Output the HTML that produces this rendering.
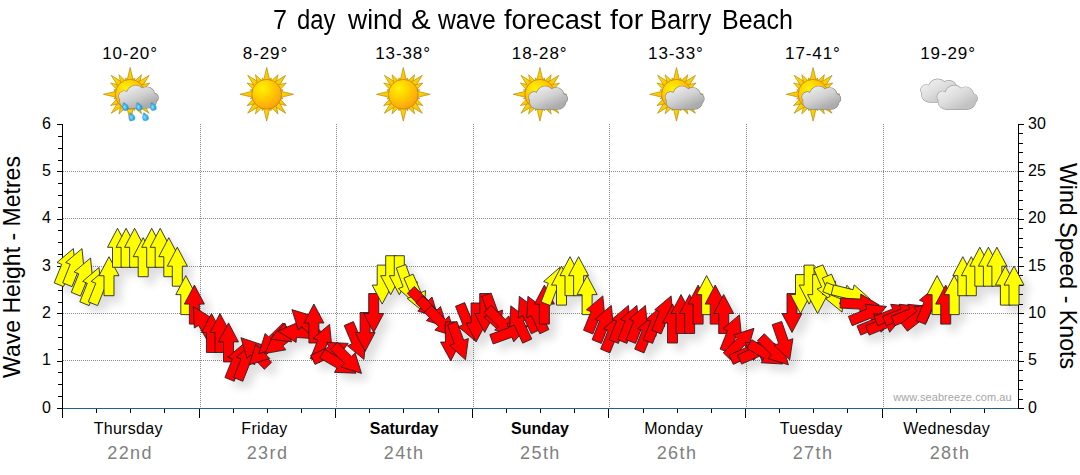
<!DOCTYPE html>
<html><head><meta charset="utf-8"><title>7 day wind &amp; wave forecast for Barry Beach</title>
<style>
html,body{margin:0;padding:0;background:#fff;}
body{width:1080px;height:475px;position:relative;overflow:hidden;font-family:"Liberation Sans",sans-serif;color:#000;}
.t{position:absolute;white-space:nowrap;line-height:1;}
.c{transform:translateX(-50%);text-align:center;}
svg{position:absolute;left:0;top:0;}
</style></head><body>
<div class="t ttl" style="left:273.4px;top:7.0px;font-size:27px;transform-origin:0 0;transform:scaleX(0.931);">7</div>
<div class="t ttl" style="left:296.7px;top:7.0px;font-size:27px;transform-origin:0 0;transform:scaleX(0.883);">day</div>
<div class="t ttl" style="left:348.2px;top:7.0px;font-size:27px;transform-origin:0 0;transform:scaleX(0.983);">wind</div>
<div class="t ttl" style="left:410.6px;top:7.0px;font-size:27px;transform-origin:0 0;transform:scaleX(1.089);">&amp;</div>
<div class="t ttl" style="left:437.6px;top:7.0px;font-size:27px;transform-origin:0 0;transform:scaleX(0.915);">wave</div>
<div class="t ttl" style="left:503.7px;top:7.0px;font-size:27px;transform-origin:0 0;transform:scaleX(1.010);">forecast</div>
<div class="t ttl" style="left:609.5px;top:7.0px;font-size:27px;transform-origin:0 0;transform:scaleX(1.056);">for</div>
<div class="t ttl" style="left:650.1px;top:7.0px;font-size:27px;transform-origin:0 0;transform:scaleX(0.949);">Barry</div>
<div class="t ttl" style="left:722.2px;top:7.0px;font-size:27px;transform-origin:0 0;transform:scaleX(0.927);">Beach</div>
<div class="t c tmp" style="left:130.0px;top:45px;font-size:17px;letter-spacing:0.9px;">10-20°</div>
<div class="t c tmp" style="left:265.5px;top:45px;font-size:17px;letter-spacing:0.9px;">8-29°</div>
<div class="t c tmp" style="left:403.1px;top:45px;font-size:17px;letter-spacing:0.9px;">13-38°</div>
<div class="t c tmp" style="left:539.7px;top:45px;font-size:17px;letter-spacing:0.9px;">18-28°</div>
<div class="t c tmp" style="left:675.9px;top:45px;font-size:17px;letter-spacing:0.9px;">13-33°</div>
<div class="t c tmp" style="left:812.9px;top:45px;font-size:17px;letter-spacing:0.9px;">17-41°</div>
<div class="t c tmp" style="left:948.1px;top:45px;font-size:17px;letter-spacing:0.9px;">19-29°</div>
<div class="t c day" style="left:128.2px;top:421px;font-size:16px;font-weight:normal;letter-spacing:0.3px;">Thursday</div>
<div class="t c num" style="left:130.1px;top:444px;font-size:18px;color:#808080;letter-spacing:1.4px;">22nd</div>
<div class="t c day" style="left:264.5px;top:421px;font-size:16px;font-weight:normal;letter-spacing:0.3px;">Friday</div>
<div class="t c num" style="left:267.5px;top:444px;font-size:18px;color:#808080;letter-spacing:1.4px;">23rd</div>
<div class="t c day" style="left:404.1px;top:421px;font-size:16px;font-weight:bold;letter-spacing:0px;">Saturday</div>
<div class="t c num" style="left:404.1px;top:444px;font-size:18px;color:#808080;letter-spacing:1.4px;">24th</div>
<div class="t c day" style="left:539.9px;top:421px;font-size:16px;font-weight:bold;letter-spacing:0px;">Sunday</div>
<div class="t c num" style="left:540.4px;top:444px;font-size:18px;color:#808080;letter-spacing:1.4px;">25th</div>
<div class="t c day" style="left:673.6px;top:421px;font-size:16px;font-weight:normal;letter-spacing:0.3px;">Monday</div>
<div class="t c num" style="left:677.0px;top:444px;font-size:18px;color:#808080;letter-spacing:1.4px;">26th</div>
<div class="t c day" style="left:811.2px;top:421px;font-size:16px;font-weight:normal;letter-spacing:0.3px;">Tuesday</div>
<div class="t c num" style="left:813.0px;top:444px;font-size:18px;color:#808080;letter-spacing:1.4px;">27th</div>
<div class="t c day" style="left:946.6px;top:421px;font-size:16px;font-weight:normal;letter-spacing:0.3px;">Wednesday</div>
<div class="t c num" style="left:950.0px;top:444px;font-size:18px;color:#808080;letter-spacing:1.4px;">28th</div>
<div class="t ly" style="right:1029px;top:399.6px;font-size:16px;">0</div>
<div class="t ly" style="right:1029px;top:352.3px;font-size:16px;">1</div>
<div class="t ly" style="right:1029px;top:304.9px;font-size:16px;">2</div>
<div class="t ly" style="right:1029px;top:257.6px;font-size:16px;">3</div>
<div class="t ly" style="right:1029px;top:210.3px;font-size:16px;">4</div>
<div class="t ly" style="right:1029px;top:162.9px;font-size:16px;">5</div>
<div class="t ly" style="right:1029px;top:115.6px;font-size:16px;">6</div>
<div class="t ry" style="left:1028px;top:399.6px;font-size:16px;">0</div>
<div class="t ry" style="left:1028px;top:352.3px;font-size:16px;">5</div>
<div class="t ry" style="left:1028px;top:304.9px;font-size:16px;">10</div>
<div class="t ry" style="left:1028px;top:257.6px;font-size:16px;">15</div>
<div class="t ry" style="left:1028px;top:210.3px;font-size:16px;">20</div>
<div class="t ry" style="left:1028px;top:162.9px;font-size:16px;">25</div>
<div class="t ry" style="left:1028px;top:115.6px;font-size:16px;">30</div>
<div class="t" id="lt" style="left:12.1px;top:267px;font-size:24.5px;transform:translate(-50%,-50%) rotate(-90deg) scaleX(0.94);">Wave Height - Metres</div>
<div class="t" id="rt" style="left:1068.0px;top:266px;font-size:24.5px;transform:translate(-50%,-50%) rotate(90deg) scaleX(0.946);">Wind Speed - Knots</div>
<div class="t" id="wm" style="right:68.3px;top:392.4px;font-size:11px;color:#a6a6a6;letter-spacing:0.08px;">www.seabreeze.com.au</div>
<svg width="1080" height="475" viewBox="0 0 1080 475">
<defs>
<radialGradient id="sung" cx="0.36" cy="0.30" r="0.75" fx="0.36" fy="0.30">
<stop offset="0" stop-color="#fff200"/><stop offset="0.35" stop-color="#ffd600"/><stop offset="0.75" stop-color="#ffb408"/><stop offset="1" stop-color="#f79c14"/>
</radialGradient>
<linearGradient id="rayg" x1="0" y1="0" x2="1" y2="1">
<stop offset="0" stop-color="#ffe400"/><stop offset="1" stop-color="#f8b800"/>
</linearGradient>
<linearGradient id="cldl" gradientUnits="userSpaceOnUse" x1="8" y1="0" x2="22" y2="24">
<stop offset="0" stop-color="#f0f0f0"/><stop offset="0.5" stop-color="#dedede"/><stop offset="1" stop-color="#c2c2c2"/>
</linearGradient>
<linearGradient id="cldd" gradientUnits="userSpaceOnUse" x1="10" y1="0" x2="20" y2="24">
<stop offset="0" stop-color="#ededed"/><stop offset="0.55" stop-color="#d0d0d0"/><stop offset="1" stop-color="#acacac"/>
</linearGradient>
<radialGradient id="dropg" cx="0.4" cy="0.55" r="0.6">
<stop offset="0" stop-color="#9fe2ff"/><stop offset="0.6" stop-color="#2fb0ee"/><stop offset="1" stop-color="#0f8fd6"/>
</radialGradient>
<filter id="soft" x="-10%" y="-10%" width="120%" height="120%"><feGaussianBlur stdDeviation="0.35"/></filter>
</defs>
<g fill="url(#rayg)" stroke="#b8880c" stroke-width="0.7" stroke-linejoin="miter" filter="url(#soft)"><polygon points="143.20,91.00 157.00,94.30 143.20,97.60"/><polygon points="143.17,96.12 146.62,98.70 142.34,99.21"/><polygon points="142.91,98.29 149.77,105.60 140.01,103.31"/><polygon points="141.73,101.16 149.15,113.25 137.06,105.83"/><polygon points="139.21,104.11 141.50,113.87 134.19,107.01"/><polygon points="135.11,106.44 134.60,110.72 132.02,107.27"/><polygon points="133.50,107.30 130.20,121.10 126.90,107.30"/><polygon points="128.38,107.27 125.80,110.72 125.29,106.44"/><polygon points="126.21,107.01 118.90,113.87 121.19,104.11"/><polygon points="123.34,105.83 111.25,113.25 118.67,101.16"/><polygon points="120.39,103.31 110.63,105.60 117.49,98.29"/><polygon points="118.06,99.21 113.78,98.70 117.23,96.12"/><polygon points="117.20,97.60 103.40,94.30 117.20,91.00"/><polygon points="117.23,92.48 113.78,89.90 118.06,89.39"/><polygon points="117.49,90.31 110.63,83.00 120.39,85.29"/><polygon points="118.67,87.44 111.25,75.35 123.34,82.77"/><polygon points="121.19,84.49 118.90,74.73 126.21,81.59"/><polygon points="125.29,82.16 125.80,77.88 128.38,81.33"/><polygon points="126.90,81.30 130.20,67.50 133.50,81.30"/><polygon points="132.02,81.33 134.60,77.88 135.11,82.16"/><polygon points="134.19,81.59 141.50,74.73 139.21,84.49"/><polygon points="137.06,82.77 149.15,75.35 141.73,87.44"/><polygon points="140.01,85.29 149.77,83.00 142.91,90.31"/><polygon points="142.34,89.39 146.62,89.90 143.17,92.48"/></g><circle cx="130.2" cy="94.3" r="14.9" fill="url(#sung)" stroke="#c58414" stroke-width="0.8" filter="url(#soft)"/>
<g transform="translate(118.9,85.6) scale(0.985,0.95)" filter="url(#soft)"><g fill="#8a8a8a" stroke="#8a8a8a" stroke-width="1.3"><circle cx="5.4" cy="11.2" r="5.4"/><circle cx="17" cy="9.2" r="9.2"/><circle cx="28.3" cy="9.4" r="7.8"/><circle cx="35.3" cy="12.8" r="4.6"/><rect x="1.0" y="9" width="37" height="14.5" rx="8.5" ry="8"/></g><g fill="url(#cldd)"><circle cx="5.4" cy="11.2" r="5.4"/><circle cx="17" cy="9.2" r="9.2"/><circle cx="28.3" cy="9.4" r="7.8"/><circle cx="35.3" cy="12.8" r="4.6"/><rect x="1.0" y="9" width="37" height="14.5" rx="8.5" ry="8"/></g></g>
<g transform="translate(125.1,106.7) rotate(-20)" filter="url(#soft)"><path d="M0,-4.4 C1.1,-2.5 2.9,-1.0 2.9,0.9 A2.9,2.9 0 1 1 -2.9,0.9 C-2.9,-1.0 -1.1,-2.5 0,-4.4 Z" fill="url(#dropg)" stroke="#1287c8" stroke-width="0.5"/></g>
<g transform="translate(138.8,106.7) rotate(-20)" filter="url(#soft)"><path d="M0,-4.4 C1.1,-2.5 2.9,-1.0 2.9,0.9 A2.9,2.9 0 1 1 -2.9,0.9 C-2.9,-1.0 -1.1,-2.5 0,-4.4 Z" fill="url(#dropg)" stroke="#1287c8" stroke-width="0.5"/></g>
<g transform="translate(153.0,106.7) rotate(-20)" filter="url(#soft)"><path d="M0,-4.4 C1.1,-2.5 2.9,-1.0 2.9,0.9 A2.9,2.9 0 1 1 -2.9,0.9 C-2.9,-1.0 -1.1,-2.5 0,-4.4 Z" fill="url(#dropg)" stroke="#1287c8" stroke-width="0.5"/></g>
<g transform="translate(131.6,116.9) rotate(-20)" filter="url(#soft)"><path d="M0,-4.4 C1.1,-2.5 2.9,-1.0 2.9,0.9 A2.9,2.9 0 1 1 -2.9,0.9 C-2.9,-1.0 -1.1,-2.5 0,-4.4 Z" fill="url(#dropg)" stroke="#1287c8" stroke-width="0.5"/></g>
<g transform="translate(145.2,116.9) rotate(-20)" filter="url(#soft)"><path d="M0,-4.4 C1.1,-2.5 2.9,-1.0 2.9,0.9 A2.9,2.9 0 1 1 -2.9,0.9 C-2.9,-1.0 -1.1,-2.5 0,-4.4 Z" fill="url(#dropg)" stroke="#1287c8" stroke-width="0.5"/></g>
<g fill="url(#rayg)" stroke="#b8880c" stroke-width="0.7" stroke-linejoin="miter" filter="url(#soft)"><polygon points="279.70,91.00 293.50,94.30 279.70,97.60"/><polygon points="279.67,96.12 283.12,98.70 278.84,99.21"/><polygon points="279.41,98.29 286.27,105.60 276.51,103.31"/><polygon points="278.23,101.16 285.65,113.25 273.56,105.83"/><polygon points="275.71,104.11 278.00,113.87 270.69,107.01"/><polygon points="271.61,106.44 271.10,110.72 268.52,107.27"/><polygon points="270.00,107.30 266.70,121.10 263.40,107.30"/><polygon points="264.88,107.27 262.30,110.72 261.79,106.44"/><polygon points="262.71,107.01 255.40,113.87 257.69,104.11"/><polygon points="259.84,105.83 247.75,113.25 255.17,101.16"/><polygon points="256.89,103.31 247.13,105.60 253.99,98.29"/><polygon points="254.56,99.21 250.28,98.70 253.73,96.12"/><polygon points="253.70,97.60 239.90,94.30 253.70,91.00"/><polygon points="253.73,92.48 250.28,89.90 254.56,89.39"/><polygon points="253.99,90.31 247.13,83.00 256.89,85.29"/><polygon points="255.17,87.44 247.75,75.35 259.84,82.77"/><polygon points="257.69,84.49 255.40,74.73 262.71,81.59"/><polygon points="261.79,82.16 262.30,77.88 264.88,81.33"/><polygon points="263.40,81.30 266.70,67.50 270.00,81.30"/><polygon points="268.52,81.33 271.10,77.88 271.61,82.16"/><polygon points="270.69,81.59 278.00,74.73 275.71,84.49"/><polygon points="273.56,82.77 285.65,75.35 278.23,87.44"/><polygon points="276.51,85.29 286.27,83.00 279.41,90.31"/><polygon points="278.84,89.39 283.12,89.90 279.67,92.48"/></g><circle cx="266.7" cy="94.3" r="14.9" fill="url(#sung)" stroke="#c58414" stroke-width="0.8" filter="url(#soft)"/>
<g fill="url(#rayg)" stroke="#b8880c" stroke-width="0.7" stroke-linejoin="miter" filter="url(#soft)"><polygon points="416.30,91.00 430.10,94.30 416.30,97.60"/><polygon points="416.27,96.12 419.72,98.70 415.44,99.21"/><polygon points="416.01,98.29 422.87,105.60 413.11,103.31"/><polygon points="414.83,101.16 422.25,113.25 410.16,105.83"/><polygon points="412.31,104.11 414.60,113.87 407.29,107.01"/><polygon points="408.21,106.44 407.70,110.72 405.12,107.27"/><polygon points="406.60,107.30 403.30,121.10 400.00,107.30"/><polygon points="401.48,107.27 398.90,110.72 398.39,106.44"/><polygon points="399.31,107.01 392.00,113.87 394.29,104.11"/><polygon points="396.44,105.83 384.35,113.25 391.77,101.16"/><polygon points="393.49,103.31 383.73,105.60 390.59,98.29"/><polygon points="391.16,99.21 386.88,98.70 390.33,96.12"/><polygon points="390.30,97.60 376.50,94.30 390.30,91.00"/><polygon points="390.33,92.48 386.88,89.90 391.16,89.39"/><polygon points="390.59,90.31 383.73,83.00 393.49,85.29"/><polygon points="391.77,87.44 384.35,75.35 396.44,82.77"/><polygon points="394.29,84.49 392.00,74.73 399.31,81.59"/><polygon points="398.39,82.16 398.90,77.88 401.48,81.33"/><polygon points="400.00,81.30 403.30,67.50 406.60,81.30"/><polygon points="405.12,81.33 407.70,77.88 408.21,82.16"/><polygon points="407.29,81.59 414.60,74.73 412.31,84.49"/><polygon points="410.16,82.77 422.25,75.35 414.83,87.44"/><polygon points="413.11,85.29 422.87,83.00 416.01,90.31"/><polygon points="415.44,89.39 419.72,89.90 416.27,92.48"/></g><circle cx="403.3" cy="94.3" r="14.9" fill="url(#sung)" stroke="#c58414" stroke-width="0.8" filter="url(#soft)"/>
<g fill="url(#rayg)" stroke="#b8880c" stroke-width="0.7" stroke-linejoin="miter" filter="url(#soft)"><polygon points="552.90,91.00 566.70,94.30 552.90,97.60"/><polygon points="552.87,96.12 556.32,98.70 552.04,99.21"/><polygon points="552.61,98.29 559.47,105.60 549.71,103.31"/><polygon points="551.43,101.16 558.85,113.25 546.76,105.83"/><polygon points="548.91,104.11 551.20,113.87 543.89,107.01"/><polygon points="544.81,106.44 544.30,110.72 541.72,107.27"/><polygon points="543.20,107.30 539.90,121.10 536.60,107.30"/><polygon points="538.08,107.27 535.50,110.72 534.99,106.44"/><polygon points="535.91,107.01 528.60,113.87 530.89,104.11"/><polygon points="533.04,105.83 520.95,113.25 528.37,101.16"/><polygon points="530.09,103.31 520.33,105.60 527.19,98.29"/><polygon points="527.76,99.21 523.48,98.70 526.93,96.12"/><polygon points="526.90,97.60 513.10,94.30 526.90,91.00"/><polygon points="526.93,92.48 523.48,89.90 527.76,89.39"/><polygon points="527.19,90.31 520.33,83.00 530.09,85.29"/><polygon points="528.37,87.44 520.95,75.35 533.04,82.77"/><polygon points="530.89,84.49 528.60,74.73 535.91,81.59"/><polygon points="534.99,82.16 535.50,77.88 538.08,81.33"/><polygon points="536.60,81.30 539.90,67.50 543.20,81.30"/><polygon points="541.72,81.33 544.30,77.88 544.81,82.16"/><polygon points="543.89,81.59 551.20,74.73 548.91,84.49"/><polygon points="546.76,82.77 558.85,75.35 551.43,87.44"/><polygon points="549.71,85.29 559.47,83.00 552.61,90.31"/><polygon points="552.04,89.39 556.32,89.90 552.87,92.48"/></g><circle cx="539.9" cy="94.3" r="14.9" fill="url(#sung)" stroke="#c58414" stroke-width="0.8" filter="url(#soft)"/>
<g transform="translate(528.9,86.3) scale(0.965,0.97)" filter="url(#soft)"><g fill="#8a8a8a" stroke="#8a8a8a" stroke-width="1.3"><circle cx="5.4" cy="11.2" r="5.4"/><circle cx="17" cy="9.2" r="9.2"/><circle cx="28.3" cy="9.4" r="7.8"/><circle cx="35.3" cy="12.8" r="4.6"/><rect x="1.0" y="9" width="37" height="14.5" rx="8.5" ry="8"/></g><g fill="url(#cldd)"><circle cx="5.4" cy="11.2" r="5.4"/><circle cx="17" cy="9.2" r="9.2"/><circle cx="28.3" cy="9.4" r="7.8"/><circle cx="35.3" cy="12.8" r="4.6"/><rect x="1.0" y="9" width="37" height="14.5" rx="8.5" ry="8"/></g></g>
<g fill="url(#rayg)" stroke="#b8880c" stroke-width="0.7" stroke-linejoin="miter" filter="url(#soft)"><polygon points="689.50,91.00 703.30,94.30 689.50,97.60"/><polygon points="689.47,96.12 692.92,98.70 688.64,99.21"/><polygon points="689.21,98.29 696.07,105.60 686.31,103.31"/><polygon points="688.03,101.16 695.45,113.25 683.36,105.83"/><polygon points="685.51,104.11 687.80,113.87 680.49,107.01"/><polygon points="681.41,106.44 680.90,110.72 678.32,107.27"/><polygon points="679.80,107.30 676.50,121.10 673.20,107.30"/><polygon points="674.68,107.27 672.10,110.72 671.59,106.44"/><polygon points="672.51,107.01 665.20,113.87 667.49,104.11"/><polygon points="669.64,105.83 657.55,113.25 664.97,101.16"/><polygon points="666.69,103.31 656.93,105.60 663.79,98.29"/><polygon points="664.36,99.21 660.08,98.70 663.53,96.12"/><polygon points="663.50,97.60 649.70,94.30 663.50,91.00"/><polygon points="663.53,92.48 660.08,89.90 664.36,89.39"/><polygon points="663.79,90.31 656.93,83.00 666.69,85.29"/><polygon points="664.97,87.44 657.55,75.35 669.64,82.77"/><polygon points="667.49,84.49 665.20,74.73 672.51,81.59"/><polygon points="671.59,82.16 672.10,77.88 674.68,81.33"/><polygon points="673.20,81.30 676.50,67.50 679.80,81.30"/><polygon points="678.32,81.33 680.90,77.88 681.41,82.16"/><polygon points="680.49,81.59 687.80,74.73 685.51,84.49"/><polygon points="683.36,82.77 695.45,75.35 688.03,87.44"/><polygon points="686.31,85.29 696.07,83.00 689.21,90.31"/><polygon points="688.64,89.39 692.92,89.90 689.47,92.48"/></g><circle cx="676.5" cy="94.3" r="14.9" fill="url(#sung)" stroke="#c58414" stroke-width="0.8" filter="url(#soft)"/>
<g transform="translate(665.5,86.3) scale(0.965,0.97)" filter="url(#soft)"><g fill="#8a8a8a" stroke="#8a8a8a" stroke-width="1.3"><circle cx="5.4" cy="11.2" r="5.4"/><circle cx="17" cy="9.2" r="9.2"/><circle cx="28.3" cy="9.4" r="7.8"/><circle cx="35.3" cy="12.8" r="4.6"/><rect x="1.0" y="9" width="37" height="14.5" rx="8.5" ry="8"/></g><g fill="url(#cldd)"><circle cx="5.4" cy="11.2" r="5.4"/><circle cx="17" cy="9.2" r="9.2"/><circle cx="28.3" cy="9.4" r="7.8"/><circle cx="35.3" cy="12.8" r="4.6"/><rect x="1.0" y="9" width="37" height="14.5" rx="8.5" ry="8"/></g></g>
<g fill="url(#rayg)" stroke="#b8880c" stroke-width="0.7" stroke-linejoin="miter" filter="url(#soft)"><polygon points="826.10,91.00 839.90,94.30 826.10,97.60"/><polygon points="826.07,96.12 829.52,98.70 825.24,99.21"/><polygon points="825.81,98.29 832.67,105.60 822.91,103.31"/><polygon points="824.63,101.16 832.05,113.25 819.96,105.83"/><polygon points="822.11,104.11 824.40,113.87 817.09,107.01"/><polygon points="818.01,106.44 817.50,110.72 814.92,107.27"/><polygon points="816.40,107.30 813.10,121.10 809.80,107.30"/><polygon points="811.28,107.27 808.70,110.72 808.19,106.44"/><polygon points="809.11,107.01 801.80,113.87 804.09,104.11"/><polygon points="806.24,105.83 794.15,113.25 801.57,101.16"/><polygon points="803.29,103.31 793.53,105.60 800.39,98.29"/><polygon points="800.96,99.21 796.68,98.70 800.13,96.12"/><polygon points="800.10,97.60 786.30,94.30 800.10,91.00"/><polygon points="800.13,92.48 796.68,89.90 800.96,89.39"/><polygon points="800.39,90.31 793.53,83.00 803.29,85.29"/><polygon points="801.57,87.44 794.15,75.35 806.24,82.77"/><polygon points="804.09,84.49 801.80,74.73 809.11,81.59"/><polygon points="808.19,82.16 808.70,77.88 811.28,81.33"/><polygon points="809.80,81.30 813.10,67.50 816.40,81.30"/><polygon points="814.92,81.33 817.50,77.88 818.01,82.16"/><polygon points="817.09,81.59 824.40,74.73 822.11,84.49"/><polygon points="819.96,82.77 832.05,75.35 824.63,87.44"/><polygon points="822.91,85.29 832.67,83.00 825.81,90.31"/><polygon points="825.24,89.39 829.52,89.90 826.07,92.48"/></g><circle cx="813.1" cy="94.3" r="14.9" fill="url(#sung)" stroke="#c58414" stroke-width="0.8" filter="url(#soft)"/>
<g transform="translate(802.1,86.3) scale(0.965,0.97)" filter="url(#soft)"><g fill="#8a8a8a" stroke="#8a8a8a" stroke-width="1.3"><circle cx="5.4" cy="11.2" r="5.4"/><circle cx="17" cy="9.2" r="9.2"/><circle cx="28.3" cy="9.4" r="7.8"/><circle cx="35.3" cy="12.8" r="4.6"/><rect x="1.0" y="9" width="37" height="14.5" rx="8.5" ry="8"/></g><g fill="url(#cldd)"><circle cx="5.4" cy="11.2" r="5.4"/><circle cx="17" cy="9.2" r="9.2"/><circle cx="28.3" cy="9.4" r="7.8"/><circle cx="35.3" cy="12.8" r="4.6"/><rect x="1.0" y="9" width="37" height="14.5" rx="8.5" ry="8"/></g></g>
<g transform="translate(920.8,79.2) scale(0.995,0.97)" filter="url(#soft)"><g fill="#a2a2a2" stroke="#a2a2a2" stroke-width="1.3"><circle cx="5.4" cy="11.2" r="5.4"/><circle cx="17" cy="9.2" r="9.2"/><circle cx="28.3" cy="9.4" r="7.8"/><circle cx="35.3" cy="12.8" r="4.6"/><rect x="1.0" y="9" width="37" height="14.5" rx="8.5" ry="8"/></g><g fill="url(#cldl)"><circle cx="5.4" cy="11.2" r="5.4"/><circle cx="17" cy="9.2" r="9.2"/><circle cx="28.3" cy="9.4" r="7.8"/><circle cx="35.3" cy="12.8" r="4.6"/><rect x="1.0" y="9" width="37" height="14.5" rx="8.5" ry="8"/></g></g>
<g transform="translate(937.3,85.5) scale(1.0,1.01)" filter="url(#soft)"><g fill="#a2a2a2" stroke="#a2a2a2" stroke-width="1.3"><circle cx="5.4" cy="11.2" r="5.4"/><circle cx="17" cy="9.2" r="9.2"/><circle cx="28.3" cy="9.4" r="7.8"/><circle cx="35.3" cy="12.8" r="4.6"/><rect x="1.0" y="9" width="37" height="14.5" rx="8.5" ry="8"/></g><g fill="url(#cldl)"><circle cx="5.4" cy="11.2" r="5.4"/><circle cx="17" cy="9.2" r="9.2"/><circle cx="28.3" cy="9.4" r="7.8"/><circle cx="35.3" cy="12.8" r="4.6"/><rect x="1.0" y="9" width="37" height="14.5" rx="8.5" ry="8"/></g></g>
</svg>
<svg width="1080" height="475" viewBox="0 0 1080 475">
<g shape-rendering="crispEdges">
<line x1="63" x2="1018" y1="360.5" y2="360.5" stroke="#8a8a8a" stroke-width="1" stroke-dasharray="1 1"/>
<line x1="63" x2="1018" y1="313.5" y2="313.5" stroke="#8a8a8a" stroke-width="1" stroke-dasharray="1 1"/>
<line x1="63" x2="1018" y1="266.5" y2="266.5" stroke="#8a8a8a" stroke-width="1" stroke-dasharray="1 1"/>
<line x1="63" x2="1018" y1="218.5" y2="218.5" stroke="#8a8a8a" stroke-width="1" stroke-dasharray="1 1"/>
<line x1="63" x2="1018" y1="171.5" y2="171.5" stroke="#8a8a8a" stroke-width="1" stroke-dasharray="1 1"/>
<line x1="200.5" x2="200.5" y1="124" y2="408" stroke="#8a8a8a" stroke-width="1" stroke-dasharray="1 1"/>
<line x1="336.5" x2="336.5" y1="124" y2="408" stroke="#8a8a8a" stroke-width="1" stroke-dasharray="1 1"/>
<line x1="473.5" x2="473.5" y1="124" y2="408" stroke="#8a8a8a" stroke-width="1" stroke-dasharray="1 1"/>
<line x1="609.5" x2="609.5" y1="124" y2="408" stroke="#8a8a8a" stroke-width="1" stroke-dasharray="1 1"/>
<line x1="746.5" x2="746.5" y1="124" y2="408" stroke="#8a8a8a" stroke-width="1" stroke-dasharray="1 1"/>
<line x1="883.5" x2="883.5" y1="124" y2="408" stroke="#8a8a8a" stroke-width="1" stroke-dasharray="1 1"/>
</g>
<g shape-rendering="crispEdges">
<rect x="62" y="408" width="957" height="1" fill="#255f87"/>
<rect x="62" y="124" width="1" height="294" fill="#000"/>
<rect x="57" y="408" width="5" height="1" fill="#000"/>
<rect x="58" y="396" width="4" height="1" fill="#000"/>
<rect x="58" y="384" width="4" height="1" fill="#000"/>
<rect x="58" y="372" width="4" height="1" fill="#000"/>
<rect x="57" y="361" width="5" height="1" fill="#000"/>
<rect x="58" y="349" width="4" height="1" fill="#000"/>
<rect x="58" y="337" width="4" height="1" fill="#000"/>
<rect x="58" y="325" width="4" height="1" fill="#000"/>
<rect x="57" y="313" width="5" height="1" fill="#000"/>
<rect x="58" y="302" width="4" height="1" fill="#000"/>
<rect x="58" y="290" width="4" height="1" fill="#000"/>
<rect x="58" y="278" width="4" height="1" fill="#000"/>
<rect x="57" y="266" width="5" height="1" fill="#000"/>
<rect x="58" y="254" width="4" height="1" fill="#000"/>
<rect x="58" y="242" width="4" height="1" fill="#000"/>
<rect x="58" y="230" width="4" height="1" fill="#000"/>
<rect x="57" y="219" width="5" height="1" fill="#000"/>
<rect x="58" y="207" width="4" height="1" fill="#000"/>
<rect x="58" y="195" width="4" height="1" fill="#000"/>
<rect x="58" y="183" width="4" height="1" fill="#000"/>
<rect x="57" y="171" width="5" height="1" fill="#000"/>
<rect x="58" y="160" width="4" height="1" fill="#000"/>
<rect x="58" y="148" width="4" height="1" fill="#000"/>
<rect x="58" y="136" width="4" height="1" fill="#000"/>
<rect x="57" y="124" width="5" height="1" fill="#000"/>
<rect x="1018" y="124" width="1" height="285" fill="#000"/>
<rect x="1019" y="408" width="5" height="1" fill="#000"/>
<rect x="1019" y="399" width="4" height="1" fill="#000"/>
<rect x="1019" y="389" width="4" height="1" fill="#000"/>
<rect x="1019" y="380" width="4" height="1" fill="#000"/>
<rect x="1019" y="370" width="4" height="1" fill="#000"/>
<rect x="1019" y="361" width="5" height="1" fill="#000"/>
<rect x="1019" y="351" width="4" height="1" fill="#000"/>
<rect x="1019" y="342" width="4" height="1" fill="#000"/>
<rect x="1019" y="332" width="4" height="1" fill="#000"/>
<rect x="1019" y="323" width="4" height="1" fill="#000"/>
<rect x="1019" y="313" width="5" height="1" fill="#000"/>
<rect x="1019" y="304" width="4" height="1" fill="#000"/>
<rect x="1019" y="294" width="4" height="1" fill="#000"/>
<rect x="1019" y="285" width="4" height="1" fill="#000"/>
<rect x="1019" y="275" width="4" height="1" fill="#000"/>
<rect x="1019" y="266" width="5" height="1" fill="#000"/>
<rect x="1019" y="257" width="4" height="1" fill="#000"/>
<rect x="1019" y="247" width="4" height="1" fill="#000"/>
<rect x="1019" y="238" width="4" height="1" fill="#000"/>
<rect x="1019" y="228" width="4" height="1" fill="#000"/>
<rect x="1019" y="219" width="5" height="1" fill="#000"/>
<rect x="1019" y="209" width="4" height="1" fill="#000"/>
<rect x="1019" y="200" width="4" height="1" fill="#000"/>
<rect x="1019" y="190" width="4" height="1" fill="#000"/>
<rect x="1019" y="181" width="4" height="1" fill="#000"/>
<rect x="1019" y="171" width="5" height="1" fill="#000"/>
<rect x="1019" y="162" width="4" height="1" fill="#000"/>
<rect x="1019" y="152" width="4" height="1" fill="#000"/>
<rect x="1019" y="143" width="4" height="1" fill="#000"/>
<rect x="1019" y="133" width="4" height="1" fill="#000"/>
<rect x="1019" y="124" width="5" height="1" fill="#000"/>
<rect x="96" y="409" width="1" height="4" fill="#000"/>
<rect x="130" y="409" width="1" height="4" fill="#000"/>
<rect x="164" y="409" width="1" height="4" fill="#000"/>
<rect x="199" y="409" width="1" height="9" fill="#000"/>
<rect x="233" y="409" width="1" height="4" fill="#000"/>
<rect x="267" y="409" width="1" height="4" fill="#000"/>
<rect x="301" y="409" width="1" height="4" fill="#000"/>
<rect x="335" y="409" width="1" height="9" fill="#000"/>
<rect x="369" y="409" width="1" height="4" fill="#000"/>
<rect x="403" y="409" width="1" height="4" fill="#000"/>
<rect x="438" y="409" width="1" height="4" fill="#000"/>
<rect x="472" y="409" width="1" height="9" fill="#000"/>
<rect x="506" y="409" width="1" height="4" fill="#000"/>
<rect x="540" y="409" width="1" height="4" fill="#000"/>
<rect x="574" y="409" width="1" height="4" fill="#000"/>
<rect x="608" y="409" width="1" height="9" fill="#000"/>
<rect x="643" y="409" width="1" height="4" fill="#000"/>
<rect x="677" y="409" width="1" height="4" fill="#000"/>
<rect x="711" y="409" width="1" height="4" fill="#000"/>
<rect x="745" y="409" width="1" height="9" fill="#000"/>
<rect x="779" y="409" width="1" height="4" fill="#000"/>
<rect x="813" y="409" width="1" height="4" fill="#000"/>
<rect x="847" y="409" width="1" height="4" fill="#000"/>
<rect x="882" y="409" width="1" height="9" fill="#000"/>
<rect x="916" y="409" width="1" height="4" fill="#000"/>
<rect x="950" y="409" width="1" height="4" fill="#000"/>
<rect x="984" y="409" width="1" height="4" fill="#000"/>
</g>
<defs><filter id="ash" x="-5%" y="-20%" width="110%" height="150%"><feGaussianBlur in="SourceAlpha" stdDeviation="4.2"/><feOffset dx="7" dy="7" result="b"/><feComponentTransfer><feFuncA type="linear" slope="0.13"/></feComponentTransfer><feMerge><feMergeNode/><feMergeNode in="SourceGraphic"/></feMerge></filter></defs><g filter="url(#ash)" stroke="#1e1e26" stroke-width="0.85" stroke-linejoin="miter" stroke-miterlimit="1.5"><polygon points="73.4,248.6 75.6,269.9 71.0,268.1 63.5,286.6 54.2,282.9 61.7,264.3 57.0,262.5" fill="#ffff00"/><polygon points="82.0,248.6 84.1,269.9 79.5,268.1 72.0,286.6 62.7,282.9 70.2,264.3 65.6,262.5" fill="#ffff00"/><polygon points="90.5,258.1 92.7,279.4 88.0,277.5 80.5,296.1 71.3,292.3 78.8,273.8 74.1,271.9" fill="#ffff00"/><polygon points="99.0,267.5 101.2,288.9 96.6,287.0 89.1,305.6 79.8,301.8 87.3,283.3 82.7,281.4" fill="#ffff00"/><polygon points="107.6,267.5 109.7,288.9 105.1,287.0 97.6,305.6 88.3,301.8 95.8,283.3 91.2,281.4" fill="#ffff00"/><polygon points="109.0,256.7 119.0,275.7 114.0,275.7 114.0,295.7 104.0,295.7 104.0,275.7 99.0,275.7" fill="#ffff00"/><polygon points="117.5,228.3 127.5,247.3 122.5,247.3 122.5,267.3 112.5,267.3 112.5,247.3 107.5,247.3" fill="#ffff00"/><polygon points="126.1,228.3 136.1,247.3 131.1,247.3 131.1,267.3 121.1,267.3 121.1,247.3 116.1,247.3" fill="#ffff00"/><polygon points="134.6,228.3 144.6,247.3 139.6,247.3 139.6,267.3 129.6,267.3 129.6,247.3 124.6,247.3" fill="#ffff00"/><polygon points="143.2,237.7 153.2,256.7 148.2,256.7 148.2,276.7 138.2,276.7 138.2,256.7 133.2,256.7" fill="#ffff00"/><polygon points="151.7,228.3 161.7,247.3 156.7,247.3 156.7,267.3 146.7,267.3 146.7,247.3 141.7,247.3" fill="#ffff00"/><polygon points="160.2,228.3 170.2,247.3 165.2,247.3 165.2,267.3 155.2,267.3 155.2,247.3 150.2,247.3" fill="#ffff00"/><polygon points="168.8,237.7 178.8,256.7 173.8,256.7 173.8,276.7 163.8,276.7 163.8,256.7 158.8,256.7" fill="#ffff00"/><polygon points="177.3,247.2 187.3,266.2 182.3,266.2 182.3,286.2 172.3,286.2 172.3,266.2 167.3,266.2" fill="#ffff00"/><polygon points="185.8,275.6 195.8,294.6 190.8,294.6 190.8,314.6 180.8,314.6 180.8,294.6 175.8,294.6" fill="#ffff00"/><polygon points="194.4,285.1 204.4,304.1 199.4,304.1 199.4,324.1 189.4,324.1 189.4,304.1 184.4,304.1" fill="#ff0000"/><polygon points="193.4,306.5 211.6,318.0 207.2,320.5 217.2,337.8 208.6,342.8 198.6,325.5 194.3,328.0" fill="#ff0000"/><polygon points="211.5,313.5 221.5,332.5 216.5,332.5 216.5,352.5 206.5,352.5 206.5,332.5 201.5,332.5" fill="#ff0000"/><polygon points="220.0,313.5 230.0,332.5 225.0,332.5 225.0,352.5 215.0,352.5 215.0,332.5 210.0,332.5" fill="#ff0000"/><polygon points="228.5,322.9 238.5,341.9 233.5,341.9 233.5,361.9 223.5,361.9 223.5,341.9 218.5,341.9" fill="#ff0000"/><polygon points="244.2,343.3 246.3,364.6 241.7,362.7 234.2,381.3 224.9,377.5 232.4,359.0 227.8,357.1" fill="#ff0000"/><polygon points="252.7,343.3 254.9,364.6 250.2,362.7 242.8,381.3 233.5,377.5 241.0,359.0 236.3,357.1" fill="#ff0000"/><polygon points="240.9,337.7 261.3,344.5 257.7,347.9 271.6,362.3 264.4,369.3 250.5,354.9 247.0,358.3" fill="#ff0000"/><polygon points="249.2,364.8 255.6,344.3 259.1,347.9 273.3,333.7 280.4,340.8 266.2,354.9 269.8,358.5" fill="#ff0000"/><polygon points="258.7,353.8 265.2,333.4 268.7,336.9 283.0,322.9 290.0,330.1 275.7,344.1 279.2,347.6" fill="#ff0000"/><polygon points="264.8,353.6 273.6,334.1 276.7,338.0 292.4,325.7 298.6,333.6 282.8,345.9 285.9,349.8" fill="#ff0000"/><polygon points="270.4,339.0 284.9,323.1 286.6,327.8 305.4,320.9 308.8,330.3 290.0,337.2 291.7,341.9" fill="#ff0000"/><polygon points="277.9,331.1 297.5,322.5 297.2,327.5 317.1,328.9 316.4,338.8 296.5,337.5 296.1,342.4" fill="#ff0000"/><polygon points="291.9,309.6 312.4,315.9 308.9,319.5 323.0,333.6 316.0,340.7 301.8,326.5 298.3,330.1" fill="#ff0000"/><polygon points="313.9,304.0 323.9,323.0 318.9,323.0 318.9,343.0 308.9,343.0 308.9,323.0 303.9,323.0" fill="#ff0000"/><polygon points="329.6,324.3 331.7,345.7 327.1,343.8 319.6,362.4 310.3,358.6 317.8,340.1 313.2,338.2" fill="#ff0000"/><polygon points="348.2,343.4 335.2,360.5 333.1,355.9 315.0,364.4 310.7,355.3 328.9,346.9 326.8,342.3" fill="#ff0000"/><polygon points="356.0,373.2 334.5,372.4 337.0,368.0 319.7,358.0 324.7,349.4 342.0,359.4 344.5,355.0" fill="#ff0000"/><polygon points="361.5,373.4 341.0,367.0 344.5,363.5 330.4,349.3 337.4,342.2 351.6,356.4 355.1,352.8" fill="#ff0000"/><polygon points="364.0,359.4 347.4,345.8 352.0,343.9 344.2,325.5 353.4,321.6 361.2,340.0 365.8,338.0" fill="#ff0000"/><polygon points="365.1,351.5 355.1,332.5 360.1,332.5 360.1,312.5 370.1,312.5 370.1,332.5 375.1,332.5" fill="#ff0000"/><polygon points="373.7,332.5 363.7,313.5 368.7,313.5 368.7,293.5 378.7,293.5 378.7,313.5 383.7,313.5" fill="#ff0000"/><polygon points="382.2,304.1 372.2,285.1 377.2,285.1 377.2,265.1 387.2,265.1 387.2,285.1 392.2,285.1" fill="#ffff00"/><polygon points="390.7,294.7 380.7,275.7 385.7,275.7 385.7,255.7 395.7,255.7 395.7,275.7 400.7,275.7" fill="#ffff00"/><polygon points="399.3,294.7 389.3,275.7 394.3,275.7 394.3,255.7 404.3,255.7 404.3,275.7 409.3,275.7" fill="#ffff00"/><polygon points="414.3,303.0 398.4,288.6 403.1,286.8 396.3,268.0 405.7,264.6 412.5,283.4 417.2,281.7" fill="#ffff00"/><polygon points="423.8,312.1 407.2,298.5 411.8,296.6 403.9,278.1 413.1,274.2 421.0,292.6 425.6,290.7" fill="#ffff00"/><polygon points="438.3,317.5 417.8,311.1 421.4,307.6 407.2,293.5 414.3,286.4 428.4,300.5 432.0,297.0" fill="#ff0000"/><polygon points="446.9,327.0 426.4,320.6 429.9,317.1 415.8,302.9 422.8,295.9 437.0,310.0 440.5,306.5" fill="#ff0000"/><polygon points="455.4,336.4 434.9,330.1 438.4,326.5 424.3,312.4 431.4,305.3 445.5,319.5 449.0,315.9" fill="#ff0000"/><polygon points="450.8,360.9 440.5,342.1 445.5,342.0 445.2,322.0 455.2,321.8 455.5,341.8 460.5,341.8" fill="#ff0000"/><polygon points="465.5,359.8 449.6,345.4 454.3,343.6 447.5,324.8 456.9,321.4 463.7,340.2 468.4,338.5" fill="#ff0000"/><polygon points="474.7,340.6 458.3,326.7 462.9,324.9 455.5,306.3 464.7,302.6 472.2,321.1 476.9,319.3" fill="#ff0000"/><polygon points="476.1,342.0 466.1,323.0 471.1,323.0 471.1,303.0 481.1,303.0 481.1,323.0 486.1,323.0" fill="#ff0000"/><polygon points="484.7,332.5 474.7,313.5 479.7,313.5 479.7,293.5 489.7,293.5 489.7,313.5 494.7,313.5" fill="#ff0000"/><polygon points="499.7,331.4 483.8,317.0 488.5,315.2 481.7,296.4 491.1,293.0 497.9,311.8 502.6,310.1" fill="#ff0000"/><polygon points="515.2,336.4 494.7,330.1 498.2,326.5 484.1,312.4 491.1,305.3 505.3,319.5 508.8,315.9" fill="#ff0000"/><polygon points="528.1,326.0 513.7,341.9 512.0,337.2 493.2,344.0 489.8,334.6 508.6,327.8 506.8,323.1" fill="#ff0000"/><polygon points="510.8,305.8 527.9,318.8 523.3,320.9 531.8,339.0 522.7,343.2 514.3,325.1 509.7,327.2" fill="#ff0000"/><polygon points="519.3,296.3 536.4,309.3 531.9,311.4 540.3,329.5 531.3,333.8 522.8,315.6 518.3,317.8" fill="#ff0000"/><polygon points="527.9,296.3 544.9,309.3 540.4,311.4 548.9,329.5 539.8,333.8 531.3,315.6 526.8,317.8" fill="#ff0000"/><polygon points="544.4,285.1 554.4,304.1 549.4,304.1 549.4,324.1 539.4,324.1 539.4,304.1 534.4,304.1" fill="#ff0000"/><polygon points="559.8,267.4 562.3,288.7 557.6,286.9 550.5,305.6 541.1,302.0 548.3,283.3 543.6,281.5" fill="#ffff00"/><polygon points="561.5,266.1 571.5,285.1 566.5,285.1 566.5,305.1 556.5,305.1 556.5,285.1 551.5,285.1" fill="#ffff00"/><polygon points="570.0,256.7 580.0,275.7 575.0,275.7 575.0,295.7 565.0,295.7 565.0,275.7 560.0,275.7" fill="#ffff00"/><polygon points="578.6,256.7 588.6,275.7 583.6,275.7 583.6,295.7 573.6,295.7 573.6,275.7 568.6,275.7" fill="#ffff00"/><polygon points="587.1,275.6 597.1,294.6 592.1,294.6 592.1,314.6 582.1,314.6 582.1,294.6 577.1,294.6" fill="#ffff00"/><polygon points="602.8,295.9 604.9,317.3 600.3,315.4 592.8,334.0 583.5,330.2 591.0,311.7 586.4,309.8" fill="#ff0000"/><polygon points="611.3,305.4 613.5,326.7 608.8,324.9 601.3,343.4 592.1,339.7 599.5,321.1 594.9,319.3" fill="#ff0000"/><polygon points="619.8,314.9 622.0,336.2 617.4,334.3 609.9,352.9 600.6,349.1 608.1,330.6 603.4,328.7" fill="#ff0000"/><polygon points="628.4,305.4 630.5,326.7 625.9,324.9 618.4,343.4 609.1,339.7 616.6,321.1 612.0,319.3" fill="#ff0000"/><polygon points="636.9,305.4 639.1,326.7 634.4,324.9 626.9,343.4 617.7,339.7 625.2,321.1 620.5,319.3" fill="#ff0000"/><polygon points="645.4,305.4 647.6,326.7 643.0,324.9 635.5,343.4 626.2,339.7 633.7,321.1 629.1,319.3" fill="#ff0000"/><polygon points="654.0,314.9 656.1,336.2 651.5,334.3 644.0,352.9 634.7,349.1 642.2,330.6 637.6,328.7" fill="#ff0000"/><polygon points="662.5,305.4 664.7,326.7 660.0,324.9 652.6,343.4 643.3,339.7 650.8,321.1 646.1,319.3" fill="#ff0000"/><polygon points="671.1,295.9 673.2,317.3 668.6,315.4 661.1,334.0 651.8,330.2 659.3,311.7 654.7,309.8" fill="#ff0000"/><polygon points="672.5,304.0 682.5,323.0 677.5,323.0 677.5,343.0 667.5,343.0 667.5,323.0 662.5,323.0" fill="#ff0000"/><polygon points="681.0,294.5 691.0,313.5 686.0,313.5 686.0,333.5 676.0,333.5 676.0,313.5 671.0,313.5" fill="#ff0000"/><polygon points="689.6,294.5 699.6,313.5 694.6,313.5 694.6,333.5 684.6,333.5 684.6,313.5 679.6,313.5" fill="#ff0000"/><polygon points="698.1,285.1 708.1,304.1 703.1,304.1 703.1,324.1 693.1,324.1 693.1,304.1 688.1,304.1" fill="#ff0000"/><polygon points="706.6,275.6 716.6,294.6 711.6,294.6 711.6,314.6 701.6,314.6 701.6,294.6 696.6,294.6" fill="#ffff00"/><polygon points="715.2,285.1 725.2,304.1 720.2,304.1 720.2,324.1 710.2,324.1 710.2,304.1 705.2,304.1" fill="#ff0000"/><polygon points="723.7,294.5 733.7,313.5 728.7,313.5 728.7,333.5 718.7,333.5 718.7,313.5 713.7,313.5" fill="#ff0000"/><polygon points="739.4,314.9 741.5,336.2 736.9,334.3 729.4,352.9 720.1,349.1 727.6,330.6 723.0,328.7" fill="#ff0000"/><polygon points="754.0,328.3 748.0,348.9 744.4,345.4 730.5,359.8 723.3,352.8 737.2,338.5 733.6,335.0" fill="#ff0000"/><polygon points="766.5,343.4 753.5,360.5 751.4,355.9 733.3,364.4 729.1,355.3 747.2,346.9 745.1,342.3" fill="#ff0000"/><polygon points="775.2,343.7 761.9,360.5 759.9,356.0 741.6,364.1 737.6,355.0 755.8,346.8 753.8,342.3" fill="#ff0000"/><polygon points="782.7,364.0 761.2,362.8 763.8,358.5 746.7,348.2 751.8,339.7 769.0,350.0 771.5,345.7" fill="#ff0000"/><polygon points="788.4,364.8 767.9,358.5 771.4,354.9 757.3,340.8 764.3,333.7 778.5,347.9 782.0,344.3" fill="#ff0000"/><polygon points="789.7,359.9 774.0,345.2 778.7,343.6 772.2,324.7 781.7,321.4 788.2,340.3 792.9,338.7" fill="#ff0000"/><polygon points="792.0,332.5 782.0,313.5 787.0,313.5 787.0,293.5 797.0,293.5 797.0,313.5 802.0,313.5" fill="#ff0000"/><polygon points="800.5,313.6 790.5,294.6 795.5,294.6 795.5,274.6 805.5,274.6 805.5,294.6 810.5,294.6" fill="#ffff00"/><polygon points="809.1,304.1 799.1,285.1 804.1,285.1 804.1,265.1 814.1,265.1 814.1,285.1 819.1,285.1" fill="#ffff00"/><polygon points="817.6,313.6 807.6,294.6 812.6,294.6 812.6,274.6 822.6,274.6 822.6,294.6 827.6,294.6" fill="#ffff00"/><polygon points="833.6,302.6 817.0,289.0 821.6,287.1 813.7,268.7 822.9,264.8 830.8,283.2 835.4,281.2" fill="#ffff00"/><polygon points="842.1,312.1 825.5,298.5 830.1,296.6 822.3,278.1 831.5,274.2 839.3,292.6 843.9,290.7" fill="#ffff00"/><polygon points="860.8,301.7 839.5,303.9 841.4,299.2 822.8,291.7 826.6,282.5 845.1,290.0 847.0,285.3" fill="#ffff00"/><polygon points="870.2,299.2 849.3,304.3 850.6,299.5 831.2,294.6 833.6,284.9 853.0,289.7 854.2,284.9" fill="#ffff00"/><polygon points="879.3,305.1 859.8,314.1 860.0,309.1 840.1,308.0 840.6,298.0 860.6,299.1 860.8,294.1" fill="#ff0000"/><polygon points="886.5,306.4 872.6,322.8 870.7,318.2 852.2,325.7 848.4,316.4 867.0,308.9 865.1,304.3" fill="#ff0000"/><polygon points="895.0,315.9 881.1,332.3 879.3,327.6 860.7,335.1 857.0,325.9 875.5,318.4 873.6,313.7" fill="#ff0000"/><polygon points="903.5,315.9 889.7,332.3 887.8,327.6 869.2,335.1 865.5,325.9 884.0,318.4 882.2,313.7" fill="#ff0000"/><polygon points="912.1,306.4 898.2,322.8 896.3,318.2 877.8,325.7 874.0,316.4 892.6,308.9 890.7,304.3" fill="#ff0000"/><polygon points="920.6,306.4 906.7,322.8 904.9,318.2 886.3,325.7 882.6,316.4 901.1,308.9 899.2,304.3" fill="#ff0000"/><polygon points="929.1,306.4 915.3,322.8 913.4,318.2 894.9,325.7 891.1,316.4 909.7,308.9 907.8,304.3" fill="#ff0000"/><polygon points="935.0,303.3 926.2,322.8 923.1,318.9 907.4,331.2 901.2,323.3 917.0,311.0 913.9,307.1" fill="#ff0000"/><polygon points="936.0,286.6 937.8,307.9 933.2,306.0 925.5,324.4 916.2,320.6 924.0,302.1 919.4,300.2" fill="#ff0000"/><polygon points="937.1,275.6 947.1,294.6 942.1,294.6 942.1,314.6 932.1,314.6 932.1,294.6 927.1,294.6" fill="#ffff00"/><polygon points="945.7,285.1 955.7,304.1 950.7,304.1 950.7,324.1 940.7,324.1 940.7,304.1 935.7,304.1" fill="#ff0000"/><polygon points="954.2,275.6 964.2,294.6 959.2,294.6 959.2,314.6 949.2,314.6 949.2,294.6 944.2,294.6" fill="#ffff00"/><polygon points="962.8,256.7 972.8,275.7 967.8,275.7 967.8,295.7 957.8,295.7 957.8,275.7 952.8,275.7" fill="#ffff00"/><polygon points="971.3,256.7 981.3,275.7 976.3,275.7 976.3,295.7 966.3,295.7 966.3,275.7 961.3,275.7" fill="#ffff00"/><polygon points="979.8,247.2 989.8,266.2 984.8,266.2 984.8,286.2 974.8,286.2 974.8,266.2 969.8,266.2" fill="#ffff00"/><polygon points="988.4,247.2 998.4,266.2 993.4,266.2 993.4,286.2 983.4,286.2 983.4,266.2 978.4,266.2" fill="#ffff00"/><polygon points="996.9,247.2 1006.9,266.2 1001.9,266.2 1001.9,286.2 991.9,286.2 991.9,266.2 986.9,266.2" fill="#ffff00"/><polygon points="1005.4,266.1 1015.4,285.1 1010.4,285.1 1010.4,305.1 1000.4,305.1 1000.4,285.1 995.4,285.1" fill="#ffff00"/><polygon points="1014.0,266.1 1024.0,285.1 1019.0,285.1 1019.0,305.1 1009.0,305.1 1009.0,285.1 1004.0,285.1" fill="#ffff00"/></g>
</svg>
</body></html>
